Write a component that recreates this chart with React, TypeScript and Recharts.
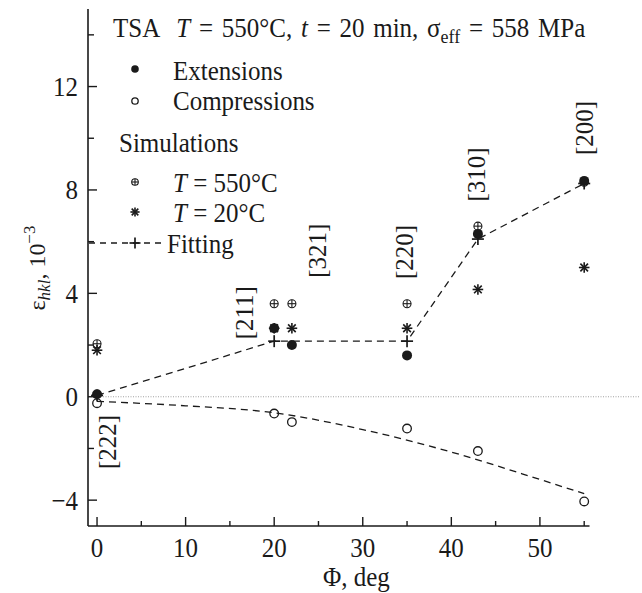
import React from 'react';
import { ComposedChart, Line, Scatter, XAxis, YAxis, ReferenceLine } from 'recharts';

// measured lattice strains, 10^-3
const phi = [0, 20, 22, 35, 43, 55];
const extensions = [0.1, 2.65, 2.0, 1.6, 6.3, 8.35];
const compressions = [-0.25, -0.65, -0.98, -1.23, -2.1, -4.05];
const sim550 = [2.05, 3.6, 3.6, 3.6, 6.6, 8.3];
const sim20 = [1.8, 2.65, 2.65, 2.65, 4.15, 5.0];

// fitting curves
const fitExtPhi = [0, 20, 35, 43, 55];
const fitExt = [0.05, 2.15, 2.15, 6.1, 8.25];
const fitCompPhi = [0, 10, 20, 30, 40, 50, 55];
const fitComp = [-0.18, -0.35, -0.62, -1.27, -2.14, -3.2, -3.75];

// reflection annotations
const hklLabels = ['[222]', '[211]', '[321]', '[220]', '[310]', '[200]'];
const hklPhi = [1.2, 16.7, 24.9, 34.7, 42.8, 55.0];
const hklEps = [-1.75, 3.25, 5.65, 5.6, 8.6, 10.4];

const xTicks = [0, 5, 10, 15, 20, 25, 30, 35, 40, 45, 50, 55];
const yTicks = [-4, -2, 0, 2, 4, 6, 8, 10, 12, 14];

const FONT = '"Liberation Serif", "Times New Roman", Times, serif';
const INK = '#1a1a1a';
const serif = { fontFamily: FONT, whiteSpace: 'pre' as const };
const STRETCH = 1.1; // the scanned lettering is a bit taller than Times

const pts = (xs: number[], ys: number[]) => xs.map((x, i) => ({ x, y: ys[i] }));

const extData = pts(phi, extensions);
const compData = pts(phi, compressions);
const sim550Data = pts(phi, sim550);
const sim20Data = pts(phi, sim20);
const fitExtData = pts(fitExtPhi, fitExt);
const fitCompData = pts(fitCompPhi, fitComp);
const hklData = hklLabels.map((label, i) => ({ x: hklPhi[i], y: hklEps[i], label }));

const fmt = (v: number) => (v < 0 ? '\u2212' + Math.abs(v) : String(v));

// text drawn at (x, y) baseline, slightly stretched vertically
function Txt({ x, y, size = 25, anchor = 'start', spacing = 0, children }: any) {
  return (
    <g transform={`translate(${x} ${y}) scale(1 ${STRETCH})`}>
      <text x={0} y={0} fontSize={size} textAnchor={anchor} fill={INK} wordSpacing={spacing} style={serif}>
        {children}
      </text>
    </g>
  );
}

function FilledDot({ cx, cy, r = 5 }: any) {
  return <circle cx={cx} cy={cy} r={r} fill={INK} />;
}

function OpenDot({ cx, cy, r = 4.3 }: any) {
  return <circle cx={cx} cy={cy} r={r} fill="none" stroke={INK} strokeWidth={1.3} />;
}

function CirclePlus({ cx, cy, r = 4 }: any) {
  return (
    <g stroke={INK} strokeWidth={1.1} fill="none">
      <circle cx={cx} cy={cy} r={r} />
      <line x1={cx - r} y1={cy} x2={cx + r} y2={cy} />
      <line x1={cx} y1={cy - r} x2={cx} y2={cy + r} />
    </g>
  );
}

function Star({ cx, cy, r = 5.3 }: any) {
  const d = r * 0.72;
  return (
    <g stroke={INK} strokeWidth={1.6}>
      <line x1={cx - r} y1={cy} x2={cx + r} y2={cy} />
      <line x1={cx} y1={cy - r} x2={cx} y2={cy + r} />
      <line x1={cx - d} y1={cy - d} x2={cx + d} y2={cy + d} />
      <line x1={cx - d} y1={cy + d} x2={cx + d} y2={cy - d} />
    </g>
  );
}

function PlusMark({ cx, cy, r = 6 }: any) {
  return (
    <g stroke={INK} strokeWidth={1.7}>
      <line x1={cx - r} y1={cy} x2={cx + r} y2={cy} />
      <line x1={cx} y1={cy - r} x2={cx} y2={cy + r} />
    </g>
  );
}

function HklLabel(p: any) {
  const label = p.payload?.label ?? p.label;
  return (
    <text
      x={p.cx}
      y={p.cy}
      transform={`rotate(-90 ${p.cx} ${p.cy})`}
      textAnchor="middle"
      dominantBaseline="central"
      fontSize={25}
      style={serif}
      fill={INK}
    >
      {label}
    </text>
  );
}

function XTick(props: any) {
  const { x, y, payload } = props;
  const major = payload.value % 10 === 0;
  return (
    <g>
      <line x1={x} y1={y} x2={x} y2={y - (major ? 9 : 5)} stroke={INK} strokeWidth={1.4} />
      {major && (
        <Txt x={x} y={y + 31} anchor="middle">
          {fmt(payload.value)}
        </Txt>
      )}
    </g>
  );
}

function YTick(props: any) {
  const { x, y, payload } = props;
  const major = payload.value % 4 === 0;
  return (
    <g>
      <line x1={x} y1={y} x2={x + (major ? 9 : 6)} y2={y} stroke={INK} strokeWidth={1.4} />
      {major && (
        <Txt x={x - 10} y={y + 9.5} anchor="end">
          {fmt(payload.value)}
        </Txt>
      )}
    </g>
  );
}

function Overlay() {
  return (
    <svg
      width={642}
      height={593}
      style={{ position: 'absolute', left: 0, top: 0, pointerEvents: 'none' }}
    >
      <Txt x={113} y={37} spacing={2.5}>
        <tspan>TSA  </tspan>
        <tspan fontStyle="italic">T</tspan>
        <tspan> = 550°C, </tspan>
        <tspan fontStyle="italic">t</tspan>
        <tspan> = 20 min, σ</tspan>
        <tspan fontSize={18} dy={5}>eff</tspan>
        <tspan dy={-5}> = 558 MPa</tspan>
      </Txt>

      <FilledDot cx={135} cy={69} r={3.8} />
      <Txt x={173} y={80}>Extensions</Txt>

      <OpenDot cx={135} cy={101} r={3.2} />
      <Txt x={173} y={110}>Compressions</Txt>

      <Txt x={119} y={152}>Simulations</Txt>

      <CirclePlus cx={135} cy={182} r={3.3} />
      <Txt x={173} y={192}>
        <tspan fontStyle="italic">T</tspan>
        <tspan> = 550°C</tspan>
      </Txt>

      <Star cx={135} cy={212} r={4.6} />
      <Txt x={173} y={222}>
        <tspan fontStyle="italic">T</tspan>
        <tspan> = 20°C</tspan>
      </Txt>

      <line x1={89} y1={243} x2={165} y2={243} stroke={INK} strokeWidth={1.4} strokeDasharray="6 5" />
      <PlusMark cx={135} cy={243} r={5.5} />
      <Txt x={167} y={253}>Fitting</Txt>

      <text
        transform="translate(45 268) rotate(-90)"
        textAnchor="middle"
        fontSize={24}
        fill={INK}
        style={serif}
      >
        <tspan>ε</tspan>
        <tspan fontSize={17} fontStyle="italic" dy={5}>hkl</tspan>
        <tspan dy={-5}>, 10</tspan>
        <tspan fontSize={17} dy={-10}>−3</tspan>
      </text>

      <Txt x={323} y={586}>Φ, deg</Txt>
    </svg>
  );
}

export default function App() {
  return (
    <div style={{ position: 'fixed', left: 0, top: 0, width: 642, height: 593, background: '#fff' }}>
      <ComposedChart
        width={642}
        height={593}
        margin={{ top: 9, right: 2, bottom: 0, left: 0 }}
      >
        <XAxis
          type="number"
          dataKey="x"
          domain={[-1.02, 61.3]}
          ticks={xTicks}
          interval={0}
          allowDataOverflow
          axisLine={false}
          tickLine={false}
          tickSize={0}
          tickMargin={0}
          height={67}
          tick={<XTick />}
        />
        <YAxis
          type="number"
          dataKey="y"
          domain={[-5, 15]}
          ticks={yTicks}
          interval={0}
          allowDataOverflow
          width={88}
          axisLine={{ stroke: INK, strokeWidth: 1.6 }}
          tickLine={false}
          tickSize={0}
          tickMargin={0}
          tick={<YTick />}
        />
        <ReferenceLine y={0} stroke="#8a8a8a" strokeWidth={0.8} strokeDasharray="1 1.5" />
        <ReferenceLine
          segment={[{ x: -1.02, y: -5 }, { x: 55.6, y: -5 }]}
          stroke={INK}
          strokeWidth={1.6}
          ifOverflow="visible"
        />
        <Line
          data={fitCompData}
          dataKey="y"
          type="monotone"
          stroke={INK}
          strokeWidth={1.3}
          strokeDasharray="7 5"
          dot={false}
          activeDot={false}
          isAnimationActive={false}
        />
        <Line
          data={fitExtData}
          dataKey="y"
          type="linear"
          stroke={INK}
          strokeWidth={1.3}
          strokeDasharray="7 5"
          dot={(p: any) => <PlusMark key={`fp-${p.index}`} cx={p.cx} cy={p.cy} />}
          activeDot={false}
          isAnimationActive={false}
        />
        <Scatter data={sim550Data} dataKey="y" shape={(p: any) => <CirclePlus cx={p.cx} cy={p.cy} />} isAnimationActive={false} />
        <Scatter data={sim20Data} dataKey="y" shape={(p: any) => <Star cx={p.cx} cy={p.cy} />} isAnimationActive={false} />
        <Scatter data={extData} dataKey="y" shape={(p: any) => <FilledDot cx={p.cx} cy={p.cy} />} isAnimationActive={false} />
        <Scatter data={compData} dataKey="y" shape={(p: any) => <OpenDot cx={p.cx} cy={p.cy} />} isAnimationActive={false} />
        <Scatter data={hklData} dataKey="y" shape={HklLabel} isAnimationActive={false} />
      </ComposedChart>
      <Overlay />
    </div>
  );
}
